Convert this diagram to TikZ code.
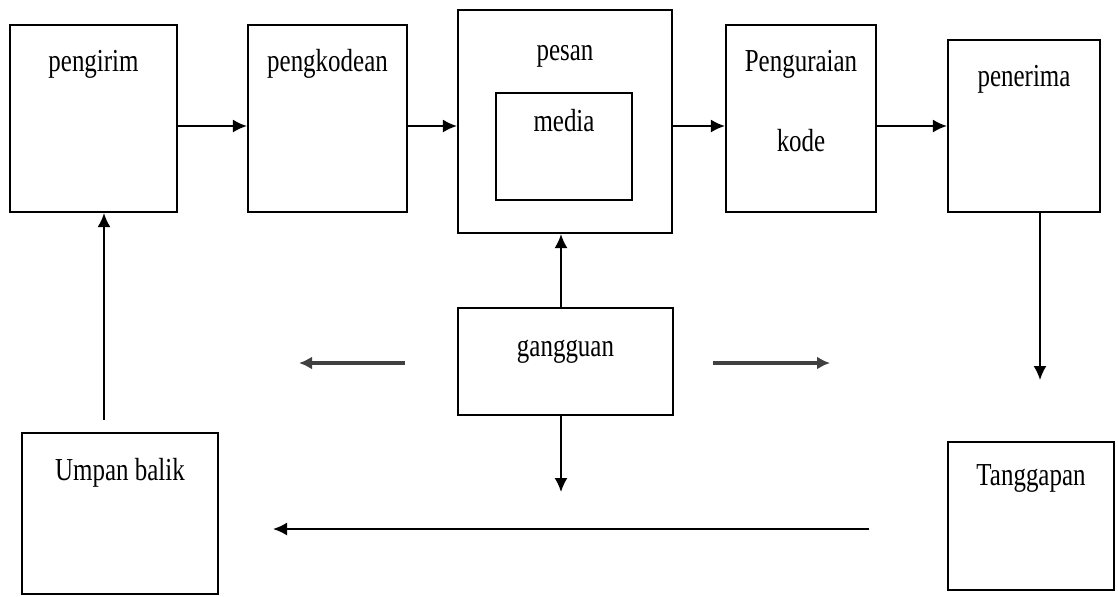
\documentclass[tikz,border=0pt]{standalone}
\usepackage{fontspec}
\setmainfont{Liberation Serif}[FakeStretch=0.78]
\usepackage{tikz}
\usetikzlibrary{arrows.meta}
\tikzstyle{myBlock}=[draw, line width=1.1pt, inner sep=0pt]
\tikzstyle{myText}=[anchor=base, inner sep=0pt, yshift=-24pt, font=\fontsize{16}{19}\selectfont]
\tikzstyle{myPath} = [-{Latex[length=7pt,width=6.5pt]}, line width=0.9pt]
\tikzstyle{myNoise} = [-{Latex[length=6.5pt,width=6.5pt]}, line width=1.7pt, black!75]

\begin{document}
\begin{tikzpicture}[x=0.5pt, y=-0.5pt]
   \useasboundingbox (0,0) rectangle (1118,596);

   \node[myBlock, minimum width=83.5pt, minimum height=93.5pt, label={[myText]north:pengirim}] (pengirim) at (93.5,118.5) {};
   \node[myBlock, minimum width=79.5pt, minimum height=93.5pt, label={[myText]north:pengkodean}] (kode) at (327.5,118.5) {};
   \node[myBlock, minimum width=107pt, minimum height=111.5pt, label={[myText, yshift=-2pt]north:pesan}] (pesan) at (565,121.5) {};
   \node[myBlock, minimum width=68pt, minimum height=53.5pt, label={[myText, yshift=4pt]north:media}] (media) at (564,146.5) {};
   \node[myBlock, minimum width=75pt, minimum height=93.5pt, label={[myText]north:Penguraian}, label={[myText, yshift=-40pt]north:kode}] (urai) at (801,118.5) {};
   \node[myBlock, minimum width=76pt, minimum height=86pt, label={[myText]north:penerima}] (penerima) at (1024,126) {};

   \node[myBlock, minimum width=107.5pt, minimum height=53.5pt, label={[myText, yshift=-1pt]north:gangguan}] (gangguan) at (565.5,361.5) {};
   \node[myBlock, minimum width=98pt, minimum height=80.5pt, label={[myText, yshift=-0.5pt]north:Umpan balik}] (umpan) at (120,513.5) {};
   \node[myBlock, minimum width=83pt, minimum height=74pt, label={[myText, yshift=1.5pt]north:Tanggapan}] (tanggapan) at (1031,516) {};

   % Draw line between each of the blocks
   \coordinate (row) at (0,126);
   \draw[myPath] (pengirim.east |- row) -- (kode.west |- row);
   \draw[myPath] (kode.east |- row) -- (pesan.west |- row);
   \draw[myPath] (pesan.east |- row) -- (urai.west |- row);
   \draw[myPath] (urai.east |- row) -- (penerima.west |- row);

   % gangguan
   \coordinate (up) at (561,0);
   \coordinate (down) at (561,492);
   \draw[myPath] (gangguan.north -| up) -- (pesan.south -| up);
   \draw[myPath] (gangguan.south -| down) -- (down);
   \coordinate (noiseL1) at (405,363);
   \coordinate (noiseL2) at (299,363);
   \coordinate (noiseR1) at (713,363);
   \coordinate (noiseR2) at (830,363);
   \draw[myNoise] (noiseL1) -- (noiseL2);
   \draw[myNoise] (noiseR1) -- (noiseR2);

   % umpan balik
   \coordinate (resp) at (1040,380);
   \coordinate (fbR) at (869,529);
   \coordinate (fbL) at (273,529);
   \coordinate (fb) at (104,420);
   \draw[myPath] (penerima.south -| resp) -- (resp);
   \draw[myPath] (fbR) -- (fbL);
   \draw[myPath] (fb) -- (fb |- pengirim.south);

\end{tikzpicture}
\end{document}
